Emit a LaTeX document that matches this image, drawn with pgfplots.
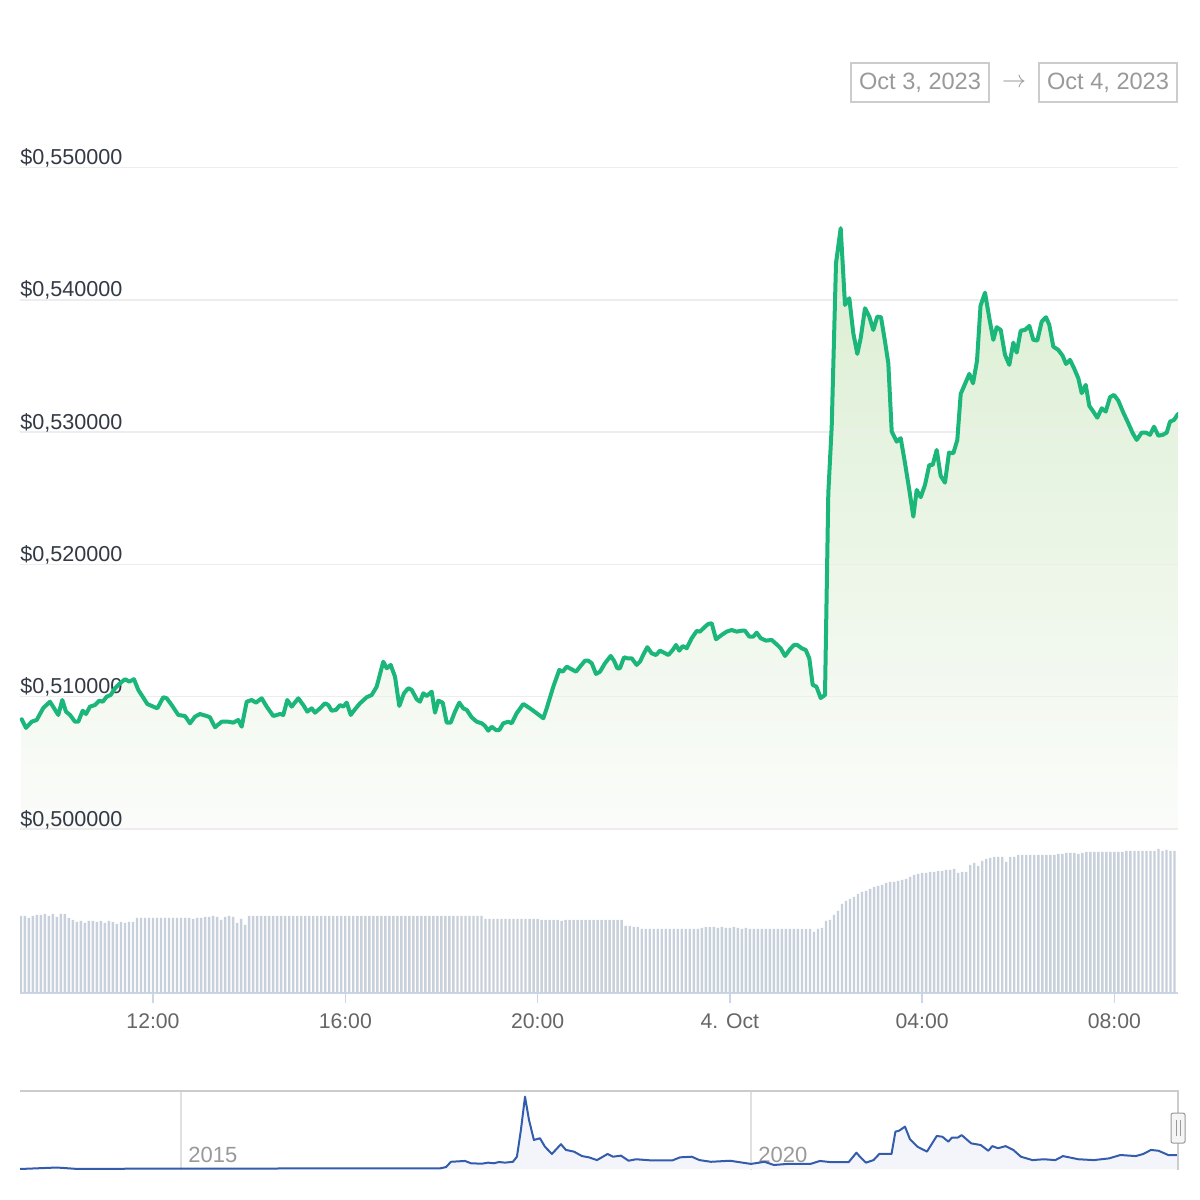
\documentclass[border=0pt]{standalone}
\usepackage{pgfplots}
\pgfplotsset{compat=1.18}
\usepackage{pgfplotstable}
\usepackage{fontspec}
\setmainfont{Liberation Sans}
\definecolor{linegreen}{RGB}{26,182,122}
\definecolor{filltop}{RGB}{218,238,209}
\definecolor{fillbot}{RGB}{251,252,250}
\definecolor{gridc}{RGB}{237,237,237}
\definecolor{labc}{RGB}{51,58,69}
\definecolor{volc}{RGB}{200,208,219}
\definecolor{axc}{RGB}{204,214,235}
\definecolor{tickc}{RGB}{102,102,102}
\definecolor{navline}{RGB}{51,92,173}
\definecolor{navfill}{RGB}{243,245,251}
\definecolor{navgrid}{RGB}{224,224,224}
\definecolor{navborder}{RGB}{204,204,204}
\definecolor{boxtext}{RGB}{153,153,153}

\pgfplotstableread[row sep=\\]{
h p\\
9.2685 0.50829\\ 9.3580 0.50764\\ 9.4766 0.50811\\ 9.5806 0.50824\\ 9.7179 0.50915\\
9.8573 0.50962\\ 10.0299 0.50862\\ 10.1131 0.50975\\ 10.1901 0.50887\\ 10.2733 0.50862\\
10.3773 0.50811\\ 10.4460 0.50811\\ 10.5375 0.50894\\ 10.6061 0.50869\\ 10.6894 0.50925\\
10.7934 0.50937\\ 10.8828 0.50970\\ 10.9536 0.50962\\ 11.0368 0.51000\\ 11.1200 0.51013\\
11.2094 0.51064\\ 11.3135 0.51101\\ 11.4175 0.51132\\ 11.5070 0.51114\\ 11.6047 0.51132\\
11.6942 0.51051\\ 11.7857 0.51000\\ 11.8814 0.50945\\ 11.9729 0.50930\\ 12.0894 0.50912\\
12.2142 0.50996\\ 12.2850 0.50988\\ 12.3890 0.50937\\ 12.5263 0.50862\\ 12.6657 0.50854\\
12.7697 0.50799\\ 12.8737 0.50849\\ 12.9777 0.50869\\ 13.1171 0.50854\\ 13.1857 0.50844\\
13.2897 0.50769\\ 13.4291 0.50811\\ 13.5664 0.50811\\ 13.6704 0.50804\\ 13.7745 0.50824\\
13.8452 0.50773\\ 13.9492 0.50962\\ 14.0532 0.50975\\ 14.1427 0.50955\\ 14.2612 0.50988\\
14.3653 0.50925\\ 14.5026 0.50854\\ 14.6419 0.50869\\ 14.7106 0.50862\\ 14.7938 0.50975\\
14.8853 0.50925\\ 15.0226 0.50988\\ 15.1267 0.50937\\ 15.2099 0.50887\\ 15.3014 0.50912\\
15.3701 0.50879\\ 15.4741 0.50912\\ 15.5781 0.50950\\ 15.6467 0.50937\\ 15.7174 0.50894\\
15.8069 0.50900\\ 15.8901 0.50937\\ 15.9588 0.50925\\ 16.0295 0.50955\\ 16.1127 0.50862\\
16.2021 0.50905\\ 16.3062 0.50950\\ 16.4456 0.50996\\ 16.5496 0.51013\\ 16.6536 0.51076\\
16.7909 0.51265\\ 16.8616 0.51215\\ 16.9448 0.51240\\ 17.0343 0.51151\\ 17.1237 0.50930\\
17.2215 0.51026\\ 17.3110 0.51064\\ 17.3817 0.51051\\ 17.4857 0.50981\\ 17.5544 0.50962\\
17.6231 0.51026\\ 17.6938 0.51005\\ 17.7977 0.51038\\ 17.8664 0.50879\\ 17.9351 0.50970\\
18.0266 0.50955\\ 18.1098 0.50804\\ 18.1930 0.50804\\ 18.2825 0.50887\\ 18.3719 0.50955\\
18.4551 0.50912\\ 18.5259 0.50900\\ 18.6298 0.50844\\ 18.7338 0.50811\\ 18.8379 0.50799\\
18.9065 0.50779\\ 18.9752 0.50743\\ 19.0460 0.50773\\ 19.1354 0.50748\\ 19.2041 0.50748\\
19.2873 0.50799\\ 19.3913 0.50811\\ 19.4620 0.50799\\ 19.5660 0.50875\\ 19.7033 0.50945\\
19.8427 0.50912\\ 19.9820 0.50875\\ 20.1193 0.50837\\ 20.1901 0.50912\\ 20.3274 0.51076\\
20.4522 0.51202\\ 20.5229 0.51189\\ 20.6062 0.51227\\ 20.7102 0.51207\\ 20.7996 0.51189\\
20.8828 0.51227\\ 20.9869 0.51272\\ 21.0555 0.51272\\ 21.1262 0.51253\\ 21.2157 0.51172\\
21.2989 0.51189\\ 21.4029 0.51253\\ 21.5215 0.51308\\ 21.5901 0.51272\\ 21.6588 0.51215\\
21.7149 0.51215\\ 21.7982 0.51298\\ 21.8669 0.51290\\ 21.9584 0.51290\\ 22.0624 0.51240\\
22.1310 0.51265\\ 22.2142 0.51328\\ 22.2829 0.51374\\ 22.3744 0.51328\\ 22.4639 0.51315\\
22.5471 0.51348\\ 22.6303 0.51333\\ 22.7198 0.51315\\ 22.8113 0.51353\\ 22.8799 0.51391\\
22.9486 0.51348\\ 23.0193 0.51383\\ 23.1025 0.51366\\ 23.2065 0.51442\\ 23.3105 0.51497\\
23.3792 0.51492\\ 23.4832 0.51529\\ 23.5518 0.51550\\ 23.6226 0.51555\\ 23.7120 0.51434\\
23.8306 0.51467\\ 23.9346 0.51492\\ 24.0387 0.51504\\ 24.1427 0.51492\\ 24.2467 0.51499\\
24.3153 0.51499\\ 24.4048 0.51454\\ 24.4880 0.51454\\ 24.5587 0.51484\\ 24.6419 0.51442\\
24.7522 0.51424\\ 24.8707 0.51429\\ 24.9873 0.51391\\ 25.0580 0.51366\\ 25.1475 0.51308\\
25.2515 0.51359\\ 25.3347 0.51391\\ 25.4034 0.51391\\ 25.4948 0.51366\\ 25.5780 0.51353\\
25.6530 0.51290\\ 25.7237 0.51089\\ 25.8005 0.51076\\ 25.8900 0.50990\\ 25.9796 0.51013\\
26.0482 0.52538\\ 26.1189 0.53041\\ 26.2084 0.54277\\ 26.3060 0.54541\\ 26.3954 0.53961\\
26.4850 0.54012\\ 26.5682 0.53747\\ 26.6513 0.53591\\ 26.7221 0.53710\\ 26.8117 0.53936\\
26.9011 0.53873\\ 26.9844 0.53772\\ 27.0676 0.53873\\ 27.1446 0.53868\\ 27.2278 0.53684\\
27.2964 0.53521\\ 27.3672 0.53004\\ 27.4711 0.52928\\ 27.5543 0.52954\\ 27.6438 0.52765\\
27.7332 0.52563\\ 27.8164 0.52361\\ 27.8871 0.52563\\ 27.9704 0.52508\\ 28.0598 0.52601\\
28.1494 0.52752\\ 28.2201 0.52752\\ 28.3032 0.52865\\ 28.3864 0.52669\\ 28.4759 0.52618\\
28.5591 0.52845\\ 28.6487 0.52840\\ 28.7319 0.52941\\ 28.8027 0.53289\\ 28.8921 0.53364\\
28.9815 0.53440\\ 29.0585 0.53369\\ 29.1417 0.53538\\ 29.2145 0.53954\\ 29.3081 0.54054\\
29.3976 0.53861\\ 29.4807 0.53697\\ 29.5515 0.53793\\ 29.6347 0.53772\\ 29.7242 0.53583\\
29.8137 0.53508\\ 29.8969 0.53676\\ 29.9675 0.53601\\ 30.0507 0.53767\\ 30.1402 0.53772\\
30.2296 0.53803\\ 30.3130 0.53697\\ 30.3962 0.53692\\ 30.4875 0.53835\\ 30.5770 0.53868\\
30.6454 0.53810\\ 30.7286 0.53646\\ 30.8331 0.53621\\ 30.9246 0.53576\\ 30.9931 0.53515\\
31.0763 0.53546\\ 31.1595 0.53483\\ 31.2490 0.53407\\ 31.3197 0.53294\\ 31.4029 0.53357\\
31.4778 0.53198\\ 31.5610 0.53155\\ 31.6442 0.53109\\ 31.7357 0.53180\\ 31.8189 0.53155\\
31.9084 0.53264\\ 31.9916 0.53281\\ 32.0810 0.53238\\ 32.1851 0.53147\\ 32.2891 0.53067\\
32.3807 0.52992\\ 32.4639 0.52941\\ 32.5680 0.52996\\ 32.6574 0.52996\\ 32.7406 0.52979\\
32.8238 0.53041\\ 32.9133 0.52973\\ 33.0048 0.52979\\ 33.0879 0.52996\\ 33.1566 0.53079\\
33.2398 0.53092\\ 33.3229 0.53137\\
}\pricedata

\pgfplotstableread[row sep=\\]{
y p\\
2013.588 0.00\\ 2013.912 0.07\\ 2014.083 0.005\\ 2014.991 0.02\\ 2017.272 0.03\\
2017.325 0.09\\ 2017.368 0.34\\ 2017.491 0.38\\ 2017.544 0.27\\ 2017.640 0.25\\
2017.693 0.30\\ 2017.746 0.27\\ 2017.789 0.33\\ 2017.842 0.30\\ 2017.912 0.34\\
2017.947 0.58\\ 2017.982 1.84\\ 2018.018 3.41\\ 2018.053 2.31\\ 2018.096 1.37\\
2018.149 1.45\\ 2018.193 1.05\\ 2018.254 0.71\\ 2018.333 1.17\\ 2018.377 0.90\\
2018.447 0.82\\ 2018.518 0.61\\ 2018.579 0.55\\ 2018.649 0.42\\ 2018.743 0.71\\
2018.789 0.58\\ 2018.860 0.63\\ 2018.927 0.39\\ 2018.991 0.46\\ 2019.114 0.41\\
2019.313 0.41\\ 2019.377 0.55\\ 2019.481 0.58\\ 2019.548 0.42\\ 2019.649 0.34\\
2019.816 0.39\\ 2020.000 0.24\\ 2020.119 0.34\\ 2020.202 0.19\\ 2020.320 0.24\\
2020.522 0.24\\ 2020.605 0.38\\ 2020.689 0.33\\ 2020.858 0.33\\ 2020.925 0.77\\
2020.956 0.58\\ 2021.009 0.30\\ 2021.075 0.42\\ 2021.126 0.71\\ 2021.233 0.71\\
2021.267 1.76\\ 2021.301 1.81\\ 2021.351 2.00\\ 2021.395 1.40\\ 2021.461 1.05\\
2021.544 0.82\\ 2021.630 1.56\\ 2021.680 1.52\\ 2021.731 1.29\\ 2021.763 1.48\\
2021.814 1.48\\ 2021.848 1.60\\ 2021.932 1.21\\ 2022.016 1.13\\ 2022.082 0.86\\
2022.117 1.08\\ 2022.167 0.98\\ 2022.234 1.08\\ 2022.301 0.90\\ 2022.368 0.58\\
2022.469 0.42\\ 2022.570 0.46\\ 2022.670 0.42\\ 2022.737 0.61\\ 2022.872 0.46\\
2023.006 0.42\\ 2023.140 0.50\\ 2023.241 0.66\\ 2023.375 0.61\\ 2023.442 0.71\\
2023.509 0.90\\ 2023.576 0.86\\ 2023.660 0.66\\ 2023.745 0.66\\
}\navdata

\pgfplotsset{priceframe/.style={
  at={(10pt,185.5pt)}, anchor=south west, scale only axis,
  width=579pt, height=330.75pt,
  xmin=9.2332, xmax=33.3229, ymin=0.5, ymax=0.55}}

\begin{document}
\begin{tikzpicture}
\fill[white] (0,0) rectangle (600pt,600pt);

% date range boxes
\node[draw=navborder, line width=1pt, minimum width=69pt, minimum height=19.5pt, inner sep=0pt,
      text=boxtext, font=\fontsize{11.8pt}{14pt}\selectfont] at (460pt,558.75pt) {Oct 3, 2023};
\node[text=boxtext, font=\fontsize{12pt}{14pt}\selectfont] at (507pt,558.5pt) {$\rightarrow$};
\node[draw=navborder, line width=1pt, minimum width=69pt, minimum height=19.5pt, inner sep=0pt,
      text=boxtext, font=\fontsize{11.8pt}{14pt}\selectfont] at (554pt,558.75pt) {Oct 4, 2023};

% price chart: area fill underneath
\begin{axis}[priceframe, hide axis]
\addplot[top color=filltop, bottom color=fillbot, draw=none]
   table[x=h, y=p] {\pricedata}
   -- (axis cs:33.3229,0.5) -- (axis cs:9.2685,0.5) -- cycle;
\end{axis}

% price chart: grid, labels, line
\begin{axis}[
  priceframe,
  axis line style={draw=none},
  xtick=\empty,
  ytick={0.50,0.51,0.52,0.53,0.54,0.55},
  yticklabels={{\$0,500000},{\$0,510000},{\$0,520000},{\$0,530000},{\$0,540000},{\$0,550000}},
  major tick length=0pt,
  ymajorgrids, grid style={draw=gridc, line width=0.8pt},
  yticklabel style={anchor=base west, inner sep=0pt, yshift=1.4pt, text=labc,
     font=\fontsize{10.8pt}{12pt}\selectfont},
]
\addplot[linegreen, line width=2pt, line join=round, line cap=round] table[x=h, y=p] {\pricedata};
\end{axis}

% volume chart
\begin{axis}[
  at={(10pt,103.5pt)}, anchor=south west, scale only axis,
  width=579pt, height=75pt,
  xmin=9.2332, xmax=33.3229, ymin=0, ymax=150,
  axis x line*=bottom, hide y axis,
  x axis line style={draw=axc, line width=1pt},
  xtick={12,16,20,24,28,32},
  xticklabels={12:00,16:00,20:00,4. Oct,04:00,08:00},
  tick align=outside, major tick length=5pt,
  xtick style={draw=axc, line width=0.7pt},
  xticklabel style={text=tickc, yshift=-2pt, font=\fontsize{10.6pt}{12pt}\selectfont},
]
\addplot[ybar, bar width=1.2pt, fill=volc, draw=none] table[x expr={9.25+\coordindex/12}, y index=0, header=false, row sep=\\] {
77\\77\\75\\77\\78\\
78\\79\\77\\79\\76\\79\\79\\75\\
73\\71\\72\\70\\72\\72\\71\\72\\70\\72\\71\\69\\71\\70\\71\\71\\
75\\75\\75\\75\\75\\75\\75\\75\\75\\75\\75\\75\\75\\75\\
74\\75\\75\\76\\76\\77\\76\\73\\76\\77\\76\\70\\74\\68\\77\\77\\
77\\77\\77\\77\\77\\77\\77\\77\\77\\77\\77\\77\\77\\77\\77\\77\\77\\77\\77\\77\\
77\\77\\77\\77\\77\\77\\77\\77\\77\\77\\77\\77\\77\\77\\77\\77\\77\\77\\77\\77\\
77\\77\\77\\77\\77\\77\\77\\77\\77\\77\\77\\77\\77\\77\\77\\77\\77\\
74\\74\\74\\74\\74\\74\\74\\74\\74\\74\\74\\74\\74\\74\\
73\\73\\73\\73\\73\\72\\73\\73\\73\\73\\73\\73\\73\\73\\73\\73\\73\\73\\73\\73\\73\\
67\\67\\66\\66\\
64\\64\\64\\64\\64\\64\\64\\64\\64\\64\\64\\64\\64\\64\\64\\
65\\66\\66\\66\\65\\66\\65\\65\\66\\65\\64\\65\\64\\64\\64\\64\\
64\\64\\64\\64\\64\\64\\64\\64\\64\\64\\64\\64\\
61\\64\\65\\72\\73\\
78\\82\\89\\92\\94\\96\\99\\101\\102\\104\\106\\107\\108\\110\\111\\111\\112\\113\\114\\116\\
118\\119\\120\\120\\121\\121\\122\\122\\123\\123\\124\\120\\121\\121\\128\\130\\127\\132\\134\\135\\
136\\136\\136\\131\\136\\136\\138\\
138\\138\\138\\138\\138\\138\\138\\138\\138\\
139\\139\\140\\140\\140\\139\\140\\
141\\141\\141\\141\\141\\141\\141\\141\\141\\141\\
142\\142\\142\\142\\142\\142\\142\\
142\\144\\142\\143\\142\\142\\
};
\end{axis}

% navigator
\begin{axis}[
  at={(10pt,15pt)}, anchor=south west, scale only axis,
  width=579pt, height=39.5pt,
  xmin=2013.588, xmax=2023.746, ymin=-0.047, ymax=3.68,
  axis line style={draw=none},
  ytick=\empty,
  xtick={2015,2020}, xticklabels={2015,2020},
  major tick length=0pt,
  xmajorgrids, grid style={draw=navgrid, line width=0.7pt},
  xticklabel style={anchor=base west, inner sep=0pt, xshift=3.5pt, yshift=3.6pt, text=boxtext,
     font=\fontsize{11pt}{12pt}\selectfont},
  extra description/.code={
    \draw[navborder, line width=1pt] (rel axis cs:0,1) -- (rel axis cs:1,1) -- (rel axis cs:1,0);
    \node[draw=gray!80, fill=gray!8, line width=0.5pt, rounded corners=1pt, minimum width=7pt,
          minimum height=15pt, inner sep=0pt] (hd) at (rel axis cs:1,0.53) {};
    \draw[gray!80, line width=0.4pt] ([xshift=-1pt,yshift=-4pt]hd.center) -- ++(0,8pt);
    \draw[gray!80, line width=0.4pt] ([xshift=1pt,yshift=-4pt]hd.center) -- ++(0,8pt);
  },
]
\addplot[fill=navfill, draw=none] table[x=y, y=p] {\navdata} \closedcycle;
\addplot[navline, line width=1pt, line join=round] table[x=y, y=p] {\navdata};
\end{axis}
\end{tikzpicture}
\end{document}
